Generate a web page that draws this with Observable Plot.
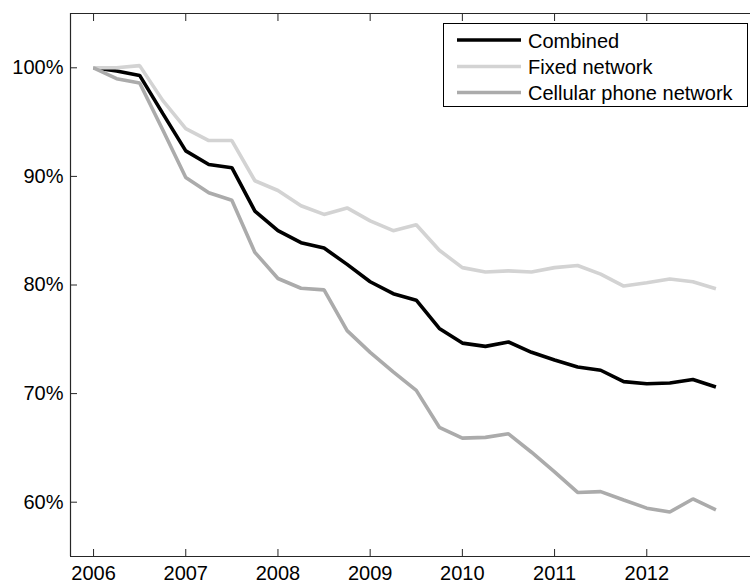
<!DOCTYPE html>
<html><head><meta charset="utf-8">
<script src="https://cdn.jsdelivr.net/npm/d3@7"></script>
<script src="https://cdn.jsdelivr.net/npm/@observablehq/plot@0.6"></script>
<style>
body{margin:0;background:#fff}
#chart{position:relative;width:750px;height:582px}
</style>
</head><body><div id="chart"></div>
<script>
const quarters = [2006, 2006.25, 2006.5, 2006.75, 2007, 2007.25, 2007.5, 2007.75,
  2008, 2008.25, 2008.5, 2008.75, 2009, 2009.25, 2009.5, 2009.75,
  2010, 2010.25, 2010.5, 2010.75, 2011, 2011.25, 2011.5, 2011.75,
  2012, 2012.25, 2012.5, 2012.75];
const combined = [100, 99.7, 99.3, 95.8, 92.35, 91.1, 90.8, 86.8, 85.0, 83.9, 83.4, 81.9, 80.3, 79.2, 78.6, 76.0, 74.65, 74.35, 74.75, 73.8, 73.1, 72.45, 72.15, 71.1, 70.9, 70.98, 71.3, 70.6];
const fixedNet = [100, 100.0, 100.2, 97.0, 94.4, 93.3, 93.3, 89.6, 88.7, 87.3, 86.5, 87.1, 85.9, 85.0, 85.55, 83.2, 81.6, 81.2, 81.3, 81.2, 81.6, 81.8, 81.0, 79.9, 80.2, 80.55, 80.3, 79.65];
const cellular = [100, 99.0, 98.6, 94.3, 89.9, 88.5, 87.8, 83.0, 80.6, 79.7, 79.55, 75.8, 73.8, 72.0, 70.3, 66.9, 65.9, 65.97, 66.3, 64.6, 62.8, 60.9, 60.97, 60.2, 59.45, 59.1, 60.3, 59.3];
const seriesNames = ["Combined", "Fixed network", "Cellular phone network"];
const seriesColors = ["#000000", "#d3d3d3", "#ababab"];
const xTicks = [2006, 2007, 2008, 2009, 2010, 2011, 2012];
const yTicks = [60, 70, 80, 90, 100];

const seriesValues = [combined, fixedNet, cellular];
const tables = seriesValues.map((vals, s) => quarters.map((q, i) => ({q, v: vals[i], series: seriesNames[s]})));

const axisColor = "#262626";
const chart = Plot.plot({
  width: 750, height: 582,
  marginLeft: 70, marginRight: 0, marginTop: 13, marginBottom: 26,
  style: {fontFamily: "'Liberation Sans', Arial, sans-serif", fontSize: "20px", color: "#000", background: "#fff", overflow: "visible"},
  x: {domain: [2005.75, 2013.125]},
  y: {domain: [55, 105]},
  marks: [
    ...tables.map((t, s) => Plot.line(t, {x: "q", y: "v", stroke: seriesColors[s], strokeWidth: 3.6, strokeLinejoin: "miter", strokeLinecap: "butt"})),
    Plot.ruleY([55, 105], {stroke: axisColor, strokeWidth: 1.2}),
    Plot.ruleX([2005.75], {stroke: axisColor, strokeWidth: 1.2}),
    Plot.axisX({anchor: "bottom", ticks: xTicks, tickSize: -7, tickPadding: 16, tickFormat: d => String(d), label: null, stroke: axisColor}),
    Plot.axisX({anchor: "top", ticks: xTicks, tickSize: -7, tickFormat: () => "", label: null, stroke: axisColor}),
    Plot.axisY({anchor: "left", ticks: yTicks, tickSize: -7, tickPadding: 14, tickFormat: d => d + "%", label: null, stroke: axisColor})
  ]
});
document.getElementById("chart").appendChild(chart);

// legend (pixel-placed box inside the axes, like the original)
const svg = d3.select(chart);
const lg = svg.append("g").attr("font-family", "'Liberation Sans', Arial, sans-serif").attr("font-size", 20).attr("text-anchor", "start");
lg.append("rect").attr("x", 443.5).attr("y", 23.5).attr("width", 304).attr("height", 83)
  .attr("fill", "#fff").attr("stroke", "#000").attr("stroke-width", 1);
const rowLine = [40, 66.5, 92.5];
const rowBase = [47.5, 74, 100];
seriesNames.forEach((name, i) => {
  lg.append("line").attr("x1", 457).attr("x2", 521).attr("y1", rowLine[i]).attr("y2", rowLine[i])
    .attr("stroke", seriesColors[i]).attr("stroke-width", 3.6);
  lg.append("text").attr("x", 528).attr("y", rowBase[i]).attr("fill", "#000").attr("text-anchor", "start").text(name);
});
</script>
</body></html>
